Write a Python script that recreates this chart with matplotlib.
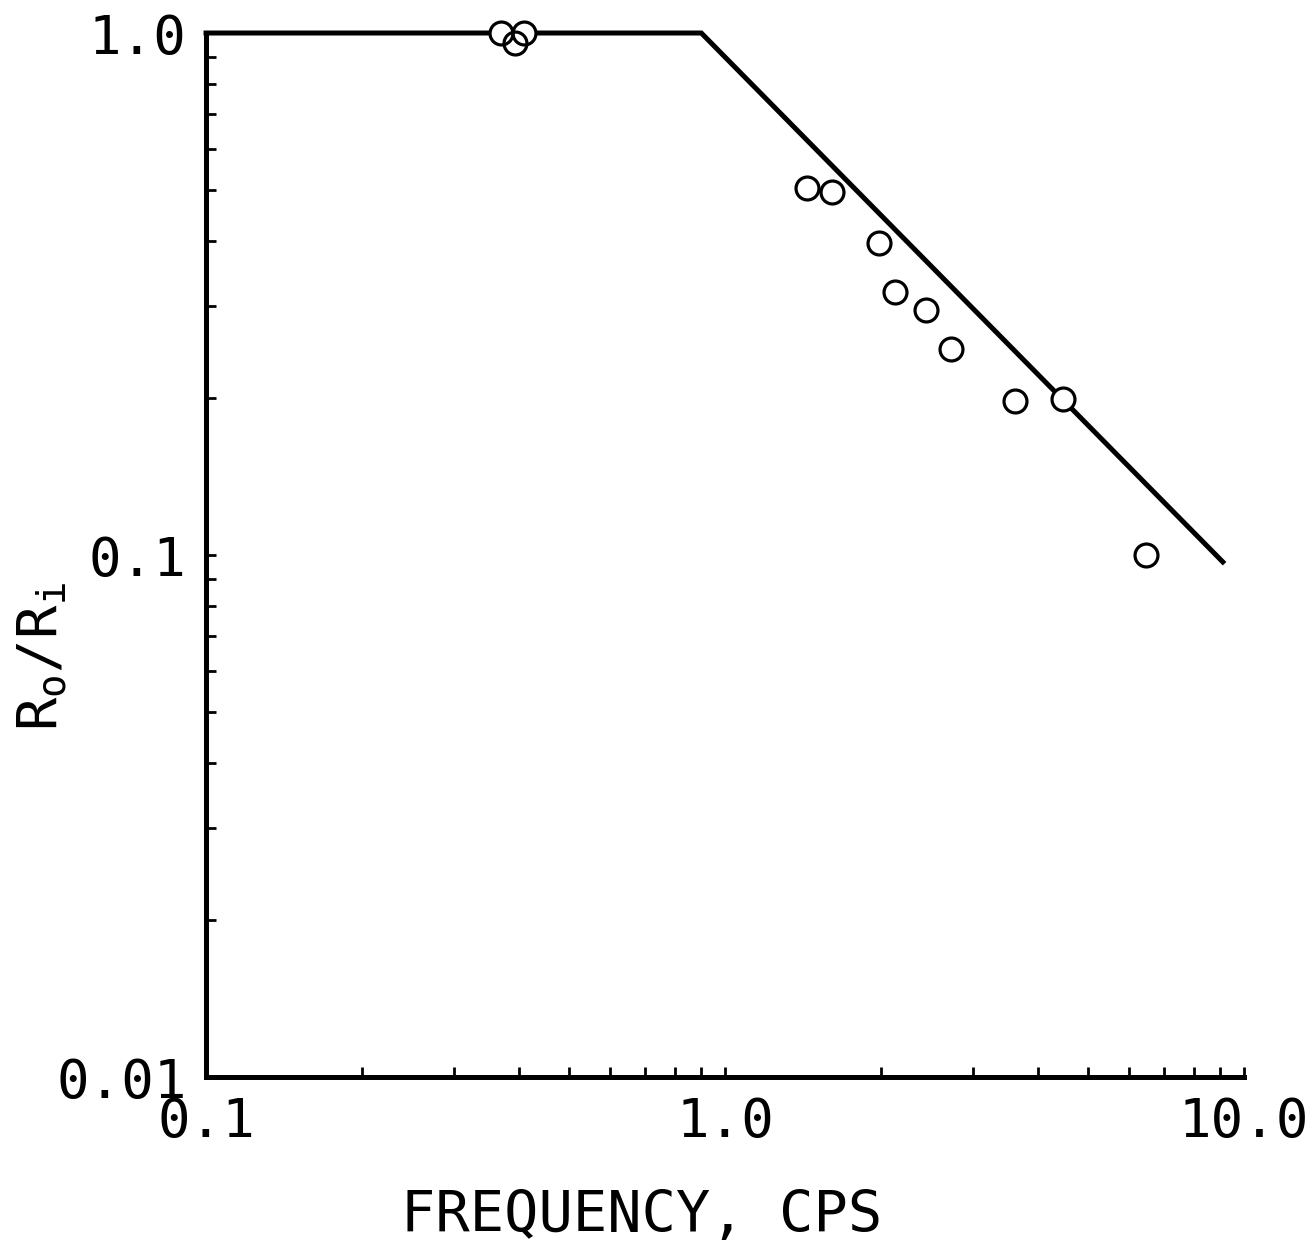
import numpy as np
import matplotlib.pyplot as plt
from matplotlib.ticker import FixedLocator, FixedFormatter, LogLocator, NullFormatter

# measured amplitude ratio vs frequency
freq = [0.37, 0.394, 0.41, 1.44, 1.61, 1.98, 2.13, 2.44, 2.73, 3.62, 4.47, 6.47]
ratio = [1.0, 0.955, 1.0, 0.505, 0.497, 0.396, 0.319, 0.295, 0.248, 0.197, 0.199, 0.1]

# idealized response: flat, then falls off as 1/f
fit_freq = [0.1, 0.9, 9.1]
fit_ratio = [1.0, 1.0, 0.097]

xticks = [0.1, 1.0, 10.0]
xticklabels = ['0.1', '1.0', '10.0']
yticks = [0.01, 0.1, 1.0]
yticklabels = ['0.01', '0.1', '1.0']

plt.rcParams['font.family'] = ['DejaVu Sans Mono']
plt.rcParams['mathtext.fontset'] = 'custom'
plt.rcParams['mathtext.rm'] = 'DejaVu Sans Mono'
plt.rcParams['mathtext.it'] = 'DejaVu Sans Mono'

fig = plt.figure(figsize=(13.09, 12.6), dpi=100)
ax = fig.add_axes([0.1574, 0.1452, 0.7930, 0.8286])

ax.set_xscale('log')
ax.set_yscale('log')
ax.set_xlim(0.1, 10)
ax.set_ylim(0.01, 1.0)

ax.plot(fit_freq, fit_ratio, color='black', linewidth=3.6, clip_on=False,
        solid_joinstyle='miter', zorder=2)
# white discs first so the line doesn't show through, then the outlines
ax.plot(freq, ratio, 'o', ms=16.5, mfc='white', mec='none', clip_on=False, zorder=3)
ax.plot(freq, ratio, 'o', ms=16.5, mfc='none', mec='black', mew=2.3, clip_on=False, zorder=4)

for side in ['top', 'right']:
  ax.spines[side].set_visible(False)
for side in ['left', 'bottom']:
  ax.spines[side].set_linewidth(3.6)

ax.xaxis.set_major_locator(FixedLocator(xticks))
ax.xaxis.set_major_formatter(FixedFormatter(xticklabels))
ax.yaxis.set_major_locator(FixedLocator(yticks))
ax.yaxis.set_major_formatter(FixedFormatter(yticklabels))
ax.xaxis.set_minor_locator(LogLocator(base=10, subs=np.arange(2, 10)))
ax.yaxis.set_minor_locator(LogLocator(base=10, subs=np.arange(2, 10)))
ax.xaxis.set_minor_formatter(NullFormatter())
ax.yaxis.set_minor_formatter(NullFormatter())

ax.tick_params(which='both', direction='in', length=7, width=2, labelsize=39, pad=14)

fig.text(642 / 1309, 1 - 1232 / 1260, 'FREQUENCY, CPS', fontsize=41,
         ha='center', va='baseline')
fig.text(42 / 1309, 1 - 657 / 1260, r'R$_\mathrm{o}$/R$_\mathrm{i}$', fontsize=40,
         rotation=90, ha='center', va='center')

fig.savefig('out.png', dpi=100)
